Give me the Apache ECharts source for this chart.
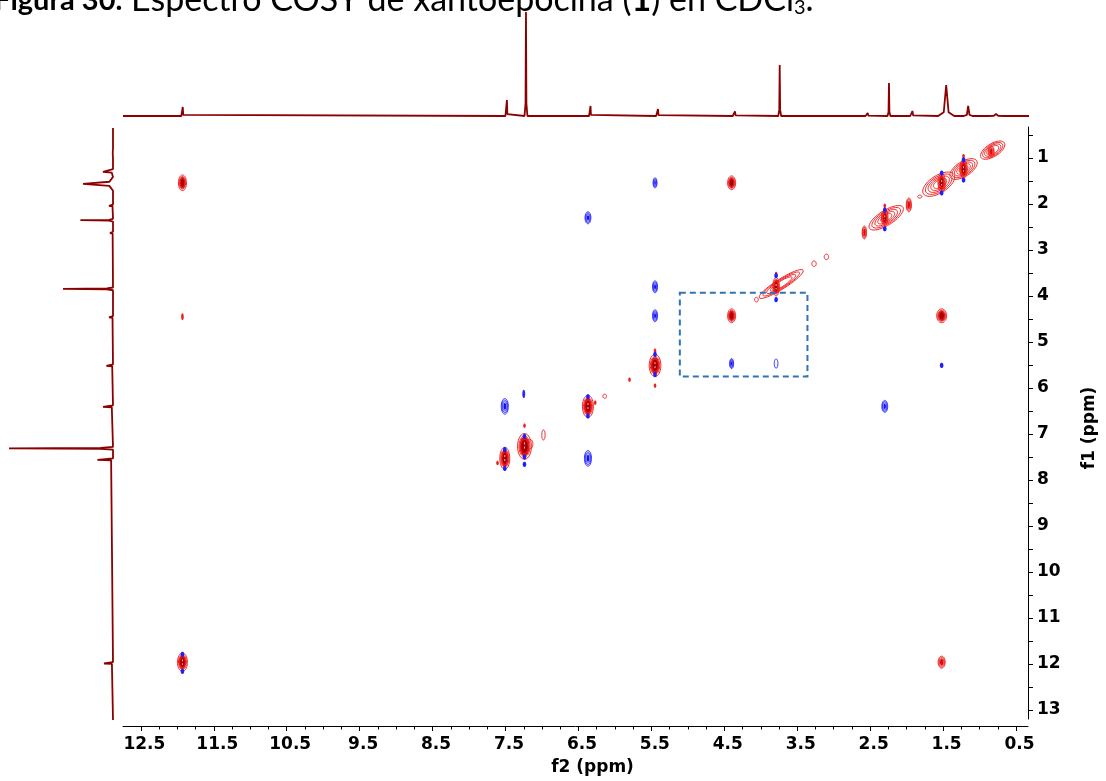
<!DOCTYPE html>
<html><head><meta charset="utf-8">
<script src="https://cdn.jsdelivr.net/npm/echarts@6/dist/echarts.min.js"></script>
<style>html,body{margin:0;padding:0;background:#fff}#c{width:1106px;height:781px}</style>
</head><body><div id="c"></div>
<script>
// ---- axis ranges (ppm) ----
const F2_MIN = 0.336, F2_MAX = 12.745;
const F1_MIN = 0.327, F1_MAX = 13.196;
const xTickLabels = [12.5, 11.5, 10.5, 9.5, 8.5, 7.5, 6.5, 5.5, 4.5, 3.5, 2.5, 1.5, 0.5];
const yTickLabels = [1, 2, 3, 4, 5, 6, 7, 8, 9, 10, 11, 12, 13];

// ---- 1D projection along f2 (top) ----
const topPpm    = [11.93, 7.51, 7.25, 6.98, 6.37, 5.45, 4.40, 3.79, 2.59, 2.30, 1.98, 1.52, 1.22, 0.84];
const topHeight = [9, 16, 104, 1, 10, 7, 4.5, 51, 3, 33, 5, 31, 10, 2];
const topWidth  = [0.02, 0.02, 0.02, 0.02, 0.02, 0.025, 0.03, 0.02, 0.03, 0.02, 0.03, 0.11, 0.06, 0.1];
const topEnd = 0.39;

// ---- 1D projection along f1 (left) ----
const leftPpm    = [0.90, 1.30, 1.56, 2.04, 2.35, 2.63, 3.84, 4.46, 5.51, 6.40, 7.30, 7.55, 11.97];
const leftHeight = [2, 10, 30, 4, 32.6, 3, 50, 4, 6.6, 10, 104, 15.6, 9];
const leftWidth  = [0.1, 0.06, 0.15, 0.03, 0.03, 0.03, 0.03, 0.03, 0.03, 0.03, 0.03, 0.03, 0.03];

// ---- 2D cross peaks: [f2, f1, half-width f2, half-width f1, contour levels] ----
const redPeaks = [
  [11.93, 1.54, 0.055, 0.17, 5],
  [11.93, 4.45, 0.018, 0.075, 2],
  [11.93, 11.96, 0.068, 0.2, 6],
  [4.40, 1.54, 0.055, 0.15, 5],
  [4.40, 4.43, 0.055, 0.15, 5],
  [1.52, 4.43, 0.068, 0.15, 5],
  [1.52, 11.96, 0.048, 0.13, 3],
  [5.45, 5.51, 0.08, 0.24, 7],
  [6.37, 6.40, 0.075, 0.24, 7],
  [7.16, 7.22, 0.035, 0.1, 1],
  [7.24, 7.27, 0.095, 0.28, 8],
  [7.51, 7.53, 0.068, 0.24, 7],
  [6.98, 7.02, 0.023, 0.11, 1],
  [6.14, 6.18, 0.025, 0.045, 1],
  [3.79, 3.80, 0.045, 0.2, 6],
  [2.58, 2.62, 0.03, 0.14, 4],
  [2.30, 2.30, 0.045, 0.17, 6],
  [1.97, 2.02, 0.035, 0.15, 4],
  [1.52, 1.54, 0.05, 0.2, 6],
  [1.22, 1.24, 0.05, 0.2, 6],
  [0.84, 0.86, 0.04, 0.12, 3],
  [4.06, 4.08, 0.025, 0.05, 1],
  [3.27, 3.30, 0.03, 0.06, 1],
  [3.10, 3.15, 0.03, 0.06, 1],
  [1.82, 1.84, 0.03, 0.03, 1]
];
const bluePeaks = [
  [5.45, 1.54, 0.027, 0.11, 3],
  [6.37, 2.30, 0.04, 0.13, 3],
  [5.45, 3.80, 0.034, 0.13, 3],
  [5.45, 4.43, 0.034, 0.13, 3],
  [4.40, 5.47, 0.027, 0.11, 3],
  [3.79, 5.47, 0.025, 0.1, 1],
  [7.25, 6.13, 0.02, 0.09, 2],
  [7.51, 6.40, 0.048, 0.17, 3],
  [2.30, 6.40, 0.04, 0.13, 3],
  [6.37, 7.53, 0.048, 0.17, 3]
];
// diagonal ridges: [f2 centre, f1 centre, half-length (ppm), half-width f1 (ppm), levels]
const diagRidges = [
  [3.72, 3.74, 0.30, 0.11, 4],
  [2.28, 2.30, 0.23, 0.16, 5],
  [1.56, 1.57, 0.21, 0.19, 5],
  [1.22, 1.24, 0.18, 0.16, 5],
  [0.82, 0.83, 0.16, 0.14, 4]
];
const redDots = [[5.80, 5.82], [5.45, 5.19], [5.45, 5.95], [7.24, 6.82], [7.61, 7.63], [6.27, 6.32], [3.79, 3.52], [1.22, 0.96], [2.30, 2.04]];
const blueDots = [[11.93, 11.79], [11.93, 12.16], [5.45, 5.27], [5.45, 5.71], [6.37, 6.19], [6.37, 6.61],
  [7.24, 7.05], [7.24, 7.50], [7.24, 7.66], [7.51, 7.34], [7.51, 7.75], [3.79, 4.08], [3.79, 3.56],
  [2.30, 2.13], [2.30, 2.54], [1.52, 1.33], [1.52, 1.76], [1.22, 1.04], [1.22, 1.48], [1.52, 5.51]];
// highlighted region (dashed box)
const boxF2 = [5.11, 3.36];
const boxF1 = [3.93, 5.75];

// ---------- helpers ----------
function traceTop() {
  const pts = [[F2_MAX, 0]];
  for (let i = 0; i < topPpm.length; i++) {
    const p = topPpm[i], h = topHeight[i], w = topWidth[i];
    pts.push([p + w, 0], [p + w * 0.3, h * 0.12], [p, h], [p - w * 0.3, h * 0.12], [p - w, 0]);
  }
  pts.push([topEnd, 0]);
  return pts;
}
function traceLeft() {
  const pts = [[0, F1_MIN + 0.02]];
  for (let i = 0; i < leftPpm.length; i++) {
    const p = leftPpm[i], h = leftHeight[i], w = leftWidth[i];
    pts.push([0, p - w], [h * 0.12, p - w * 0.3], [h, p], [h * 0.12, p + w * 0.3], [0, p + w]);
  }
  pts.push([0, F1_MAX]);
  return pts;
}
function ellPts(cx, cy, a, b, ux, uy) {
  const vx = -uy, vy = ux, pts = [];
  for (let i = 0; i < 40; i++) {
    const t = i / 40 * Math.PI * 2, ca = Math.cos(t) * a, sb = Math.sin(t) * b;
    pts.push([cx + ca * ux + sb * vx, cy + ca * uy + sb * vy]);
  }
  return pts;
}
function poly(pts, style) { return { type: 'polygon', shape: { points: pts }, style: style, silent: true }; }

function makePeakRenderer(strokeCol, fillCol, darkCol, fillScale) {
  return function (params, api) {
    const f2 = api.value(0), f1 = api.value(1), w2 = api.value(2), w1 = api.value(3), n = api.value(4);
    const c = api.coord([f2, f1]);
    const e = api.coord([f2 - w2, f1 + w1]);
    const rx = Math.max(1, Math.abs(e[0] - c[0])), ry = Math.max(1.5, Math.abs(e[1] - c[1]));
    const ch = [];
    if (n >= 5) {
      ch.push(poly(ellPts(c[0], c[1], rx * 0.72 * fillScale, ry * 0.75 * fillScale, 1, 0), { fill: fillCol, stroke: null }));
      ch.push(poly(ellPts(c[0], c[1], rx * 0.45 * fillScale, ry * 0.5 * fillScale, 1, 0), { fill: darkCol, stroke: null }));
    } else if (n >= 3) {
      ch.push(poly(ellPts(c[0], c[1], rx * 0.5 * fillScale, ry * 0.55 * fillScale, 1, 0), { fill: fillCol, stroke: null }));
    } else if (n === 2) {
      ch.push(poly(ellPts(c[0], c[1], rx, ry, 1, 0), { fill: strokeCol, stroke: null }));
    }
    const nl = n === 2 ? 0 : Math.min(n, 3);
    for (let k = 0; k < nl; k++) {
      const s = 1 - k * 0.2;
      ch.push(poly(ellPts(c[0], c[1], rx * s, ry * s, 1, 0), { fill: null, stroke: strokeCol, lineWidth: 1 }));
    }
    if (n >= 6) {
      ch.push({ type: 'line', shape: { x1: c[0], y1: c[1] - ry * 0.3, x2: c[0], y2: c[1] + ry * 0.3 },
        style: { stroke: 'rgba(255,210,210,0.85)', lineWidth: 1, lineDash: [2, 2] }, silent: true });
    }
    return { type: 'group', children: ch };
  };
}
function renderRidge(params, api) {
  const f2 = api.value(0), f1 = api.value(1), L = api.value(2), W = api.value(3), n = api.value(4);
  const c = api.coord([f2, f1]);
  const a = api.coord([f2 + L, f1 + L]);
  const dx = c[0] - a[0], dy = c[1] - a[1];
  const major = Math.hypot(dx, dy);
  const ux = dx / major, uy = dy / major;
  const minor = Math.abs(api.coord([f2, f1 + W])[1] - c[1]);
  const ch = [];
  for (let k = 0; k < n; k++) {
    const s = 1 - k * 0.17;
    ch.push(poly(ellPts(c[0], c[1], major * s, minor * (1 - k * 0.15), ux, uy), { fill: null, stroke: '#f02828', lineWidth: 1 }));
  }
  return { type: 'group', children: ch };
}
function makeDotRenderer(col, rx, ry) {
  return function (params, api) {
    const c = api.coord([api.value(0), api.value(1)]);
    return poly(ellPts(c[0], c[1], rx, ry, 1, 0), { fill: col, stroke: null });
  };
}
function renderBox(params, api) {
  const p1 = api.coord([api.value(0), api.value(1)]);
  const p2 = api.coord([api.value(2), api.value(3)]);
  return { type: 'rect', shape: { x: Math.min(p1[0], p2[0]), y: Math.min(p1[1], p2[1]),
    width: Math.abs(p2[0] - p1[0]), height: Math.abs(p2[1] - p1[1]) },
    style: { fill: null, stroke: '#2e75b6', lineWidth: 2, lineDash: [6, 4] }, silent: true };
}

const xMinorTicks = []; for (let v = 0.5; v <= 12.51; v += 0.25) xMinorTicks.push(+v.toFixed(2));
const yMinorTicks = []; for (let v = 0.5; v <= 13.01; v += 0.5) yMinorTicks.push(+v.toFixed(2));

const labelFont = { fontFamily: 'DejaVu Sans', fontWeight: 'bold', fontSize: 17, color: '#000' };
const hidden = { show: false };

const chart = echarts.init(document.getElementById('c'), null, { renderer: 'canvas' });
chart.setOption({
  animation: false,
  backgroundColor: '#ffffff',
  graphic: [{
    type: 'text', left: -6, top: -18, silent: true,
    style: {
      text: '{b|Figura 30.} Espectro COSY de xantoepocina ({c|1}) en CDCl{s|3}.',
      fontFamily: 'Lato', fontSize: 34, fill: '#000', lineHeight: 34,
      rich: {
        b: { fontFamily: 'Lato', fontWeight: 'bold', fontSize: 29, lineHeight: 34, padding: [1, 0, 0, 0] },
        c: { fontFamily: 'Lato', fontWeight: 'bold', fontSize: 34, lineHeight: 34 },
        s: { fontFamily: 'Lato', fontSize: 20, lineHeight: 34, padding: [16, 0, 0, 0] }
      }
    }
  }],
  grid: [
    { left: 123, right: 73, top: 127, bottom: 61 },
    { left: 123, right: 73, top: 0, bottom: 665 },
    { left: 0, right: 993, top: 127, bottom: 61 }
  ],
  xAxis: [
    { type: 'value', gridIndex: 0, min: F2_MIN, max: F2_MAX, inverse: true, position: 'bottom', offset: 7,
      axisLine: { show: true, lineStyle: { color: '#000', width: 1 } },
      axisTick: { show: true, length: 5, customValues: xTickLabels, lineStyle: { color: '#000' } },
      axisLabel: Object.assign({ customValues: xTickLabels, margin: 10, padding: [0, 0, 0, 7],
        formatter: v => v.toFixed(1) }, labelFont),
      splitLine: hidden,
      name: 'f2 (ppm)', nameLocation: 'middle', nameGap: 33,
      nameTextStyle: Object.assign({ padding: [0, 0, 0, 34] }, labelFont) },
    { type: 'value', gridIndex: 0, min: F2_MIN, max: F2_MAX, inverse: true, position: 'bottom', offset: 7,
      axisLine: hidden, axisLabel: hidden, splitLine: hidden,
      axisTick: { show: true, length: 3.5, customValues: xMinorTicks, lineStyle: { color: '#000' } } },
    { type: 'value', gridIndex: 1, min: F2_MIN, max: F2_MAX, inverse: true, show: false, splitLine: hidden },
    { type: 'value', gridIndex: 2, min: 0, max: 113, inverse: true, show: false, splitLine: hidden }
  ],
  yAxis: [
    { type: 'value', gridIndex: 0, min: F1_MIN, max: F1_MAX, inverse: true, position: 'right',
      axisLine: { show: true, lineStyle: { color: '#000', width: 1 } },
      axisTick: { show: true, length: 5, customValues: yMinorTicks, lineStyle: { color: '#000' } },
      axisLabel: Object.assign({ customValues: yTickLabels, margin: 9 }, labelFont),
      splitLine: hidden,
      name: 'f1 (ppm)', nameLocation: 'middle', nameGap: 53, nameRotate: 90,
      nameTextStyle: Object.assign({ padding: [0, 10, 0, 0] }, labelFont) },
    { type: 'value', gridIndex: 1, min: 0, max: 116, show: false, splitLine: hidden },
    { type: 'value', gridIndex: 2, min: F1_MIN, max: F1_MAX, inverse: true, show: false, splitLine: hidden }
  ],
  series: [
    { type: 'line', xAxisIndex: 2, yAxisIndex: 1, data: traceTop(), showSymbol: false, silent: true,
      lineStyle: { color: '#8b0000', width: 1.8 }, z: 3 },
    { type: 'line', xAxisIndex: 3, yAxisIndex: 2, data: traceLeft(), showSymbol: false, silent: true,
      lineStyle: { color: '#8b0000', width: 1.8 }, z: 3 },
    { type: 'custom', xAxisIndex: 0, yAxisIndex: 0, data: diagRidges, renderItem: renderRidge, silent: true, z: 2 },
    { type: 'custom', xAxisIndex: 0, yAxisIndex: 0, data: redPeaks,
      renderItem: makePeakRenderer('#f02020', '#d81010', '#a80000', 1), silent: true, z: 3 },
    { type: 'custom', xAxisIndex: 0, yAxisIndex: 0, data: redDots,
      renderItem: makeDotRenderer('#ee2020', 1.3, 2.2), silent: true, z: 3 },
    { type: 'custom', xAxisIndex: 0, yAxisIndex: 0, data: bluePeaks,
      renderItem: makePeakRenderer('#2a2aff', '#1414e0', '#0000b0', 0.8), silent: true, z: 4 },
    { type: 'custom', xAxisIndex: 0, yAxisIndex: 0, data: blueDots,
      renderItem: makeDotRenderer('#1e1eff', 1.8, 2.6), silent: true, z: 4 },
    { type: 'custom', xAxisIndex: 0, yAxisIndex: 0, data: [[boxF2[0], boxF1[0], boxF2[1], boxF1[1]]],
      renderItem: renderBox, silent: true, z: 5 }
  ]
});
</script></body></html>
